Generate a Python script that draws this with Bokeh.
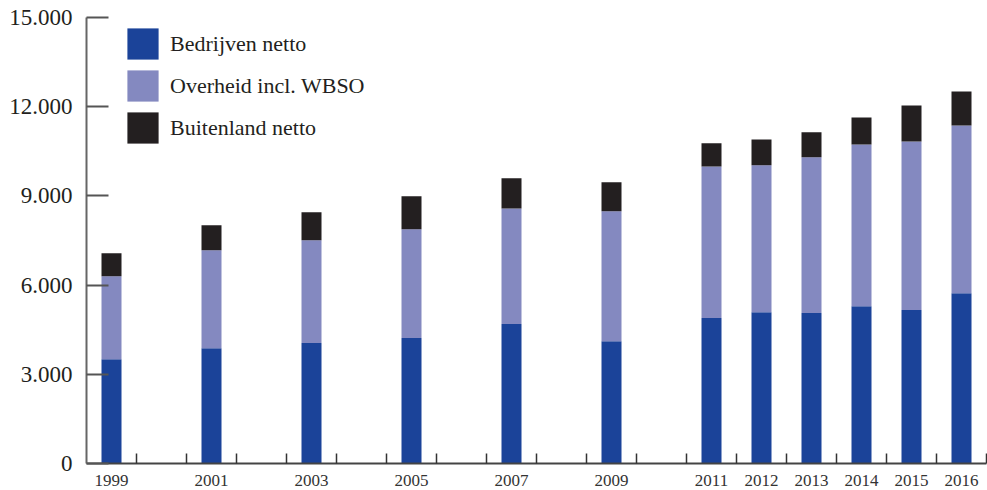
from bokeh.plotting import figure
from bokeh.models import FixedTicker, ColumnDataSource, Range1d
from bokeh.embed import file_html
from bokeh.resources import INLINE

years = [1999, 2001, 2003, 2005, 2007, 2009, 2011, 2012, 2013, 2014, 2015, 2016]
bedrijven = [3510, 3880, 4050, 4220, 4690, 4110, 4890, 5090, 5060, 5290, 5160, 5730]
overheid = [2790, 3290, 3460, 3660, 3890, 4370, 5100, 4940, 5240, 5440, 5670, 5640]
buitenland = [770, 840, 940, 1110, 1010, 980, 780, 870, 840, 910, 1210, 1140]
series = ["Bedrijven netto", "Overheid incl. WBSO", "Buitenland netto"]
colors = ["#1b4399", "#8489c0", "#231f20"]
y_ticks = [0, 3000, 6000, 9000, 12000, 15000]
y_labels = ["0", "3.000", "6.000", "9.000", "12.000", "15.000"]

src = ColumnDataSource(dict(year=years, b=bedrijven, o=overheid, f=buitenland))

FONT = "Liberation Serif"

p = figure(width=987, height=490, output_backend="svg", toolbar_location=None,
           x_range=Range1d(1998.5, 2016.5), y_range=Range1d(0, 15000),
           min_border_left=86, min_border_right=1, min_border_top=17, min_border_bottom=27)
p.outline_line_color = None
p.xgrid.visible = False
p.ygrid.visible = False

p.vbar_stack(["b", "o", "f"], x="year", width=0.4, source=src, color=colors,
             line_color=None, legend_label=series)

# x axis
bounds = [y + 0.5 for y in range(1999, 2017)]
p.xaxis.ticker = FixedTicker(ticks=years, minor_ticks=bounds)
p.xaxis.major_tick_in = 0
p.xaxis.major_tick_out = 0
p.xaxis.minor_tick_in = 10
p.xaxis.minor_tick_out = 0
p.xaxis.minor_tick_line_color = "#333333"
p.xaxis.minor_tick_line_width = 1.5
p.xaxis.axis_line_color = "#444444"
p.xaxis.axis_line_width = 2
p.xaxis.major_label_text_font = FONT
p.xaxis.major_label_text_font_size = "17px"
p.xaxis.major_label_text_color = "#333333"
p.xaxis.major_label_standoff = 11

# y axis
p.yaxis.ticker = FixedTicker(ticks=y_ticks)
p.yaxis.major_label_overrides = {t: l for t, l in zip(y_ticks, y_labels)}
p.yaxis.major_tick_in = 22
p.yaxis.major_tick_out = 0
p.yaxis.minor_tick_line_color = None
p.yaxis.major_tick_line_color = "#555555"
p.yaxis.major_tick_line_width = 2
p.yaxis.axis_line_color = "#666666"
p.yaxis.axis_line_width = 2
p.yaxis.major_label_text_font = FONT
p.yaxis.major_label_text_font_size = "23px"
p.yaxis.major_label_text_color = "#231f20"
p.yaxis.major_label_standoff = 14

# legend
lg = p.legend[0]
lg.location = (37, 316)
lg.padding = 0
lg.margin = 0
lg.spacing = 3
lg.glyph_width = 39
lg.glyph_height = 39
lg.label_height = 39
lg.label_standoff = 8
lg.label_text_font = FONT
lg.label_text_font_size = "22px"
lg.label_text_color = "#231f20"
lg.border_line_alpha = 0
lg.background_fill_alpha = 0

open("out.html", "w").write(file_html(p, INLINE))
